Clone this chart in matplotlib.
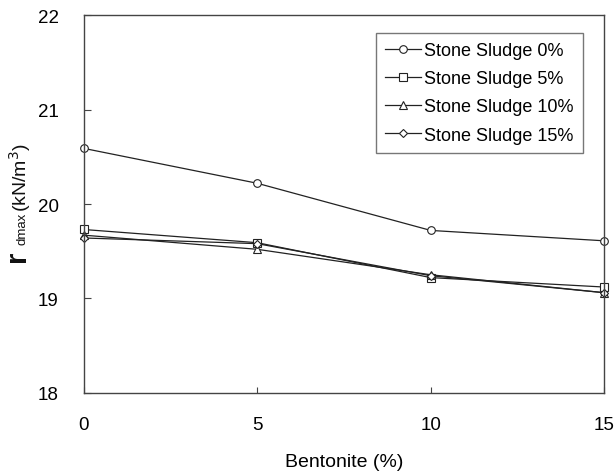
import matplotlib.pyplot as plt

plt.rcParams['font.family'] = ['Liberation Sans', 'DejaVu Sans']

bentonite = [0, 5, 10, 15]
sludge_0 = [20.59, 20.22, 19.72, 19.61]
sludge_5 = [19.73, 19.59, 19.22, 19.12]
sludge_10 = [19.67, 19.52, 19.25, 19.06]
sludge_15 = [19.64, 19.58, 19.24, 19.06]

series = [
    ("Stone Sludge 0%", sludge_0, "o"),
    ("Stone Sludge 5%", sludge_5, "s"),
    ("Stone Sludge 10%", sludge_10, "^"),
    ("Stone Sludge 15%", sludge_15, "D"),
]

fig = plt.figure(figsize=(6.15, 4.77), dpi=100)
ax = fig.add_axes([0.136, 0.1746, 0.8466, 0.7912])

for label, vals, m in series:
    ms = 4.5 if m == "D" else 5.5
    ax.plot(bentonite, vals, color="#222222", lw=0.9, marker=m, ms=ms,
            mfc="white", mec="#222222", mew=0.8, label=label, clip_on=False)

ax.set_xlim(0, 15)
ax.set_ylim(18, 22)
ax.set_xticks([0, 5, 10, 15])
ax.set_yticks([18, 19, 20, 21, 22])
ax.tick_params(axis="y", direction="in", length=5, pad=18, labelsize=13.5,
               color="#444444")
ax.tick_params(axis="x", direction="in", length=4, pad=17, labelsize=13.5,
               color="#444444")
for s in ax.spines.values():
    s.set_color("#444444")
    s.set_linewidth(1.0)

ax.set_xlabel("Bentonite (%)", fontsize=14, labelpad=14)

# y-axis label built from pieces: large bold r, small subscript, units
fig.text(17 / 615, 1 - 262 / 477, "r", rotation=90, fontsize=21,
         fontweight="bold", ha="center", va="bottom", color="#111111")
fig.text(23 / 615, 1 - 245 / 477, "dmax", rotation=90, fontsize=9.5,
         ha="center", va="bottom", color="#111111")
fig.text(20 / 615, 1 - 212 / 477, "(kN/m$^3$)", rotation=90, fontsize=14,
         ha="center", va="bottom", color="#111111")

leg = ax.legend(loc="upper right", bbox_to_anchor=(0.959, 0.953),
                fontsize=13, frameon=True, fancybox=False, handlelength=2.0,
                handletextpad=0.2, borderpad=0.5, labelspacing=0.62,
                borderaxespad=0)
leg.get_frame().set_edgecolor("#555555")
leg.get_frame().set_linewidth(1.0)

fig.savefig("out.png", dpi=100)
